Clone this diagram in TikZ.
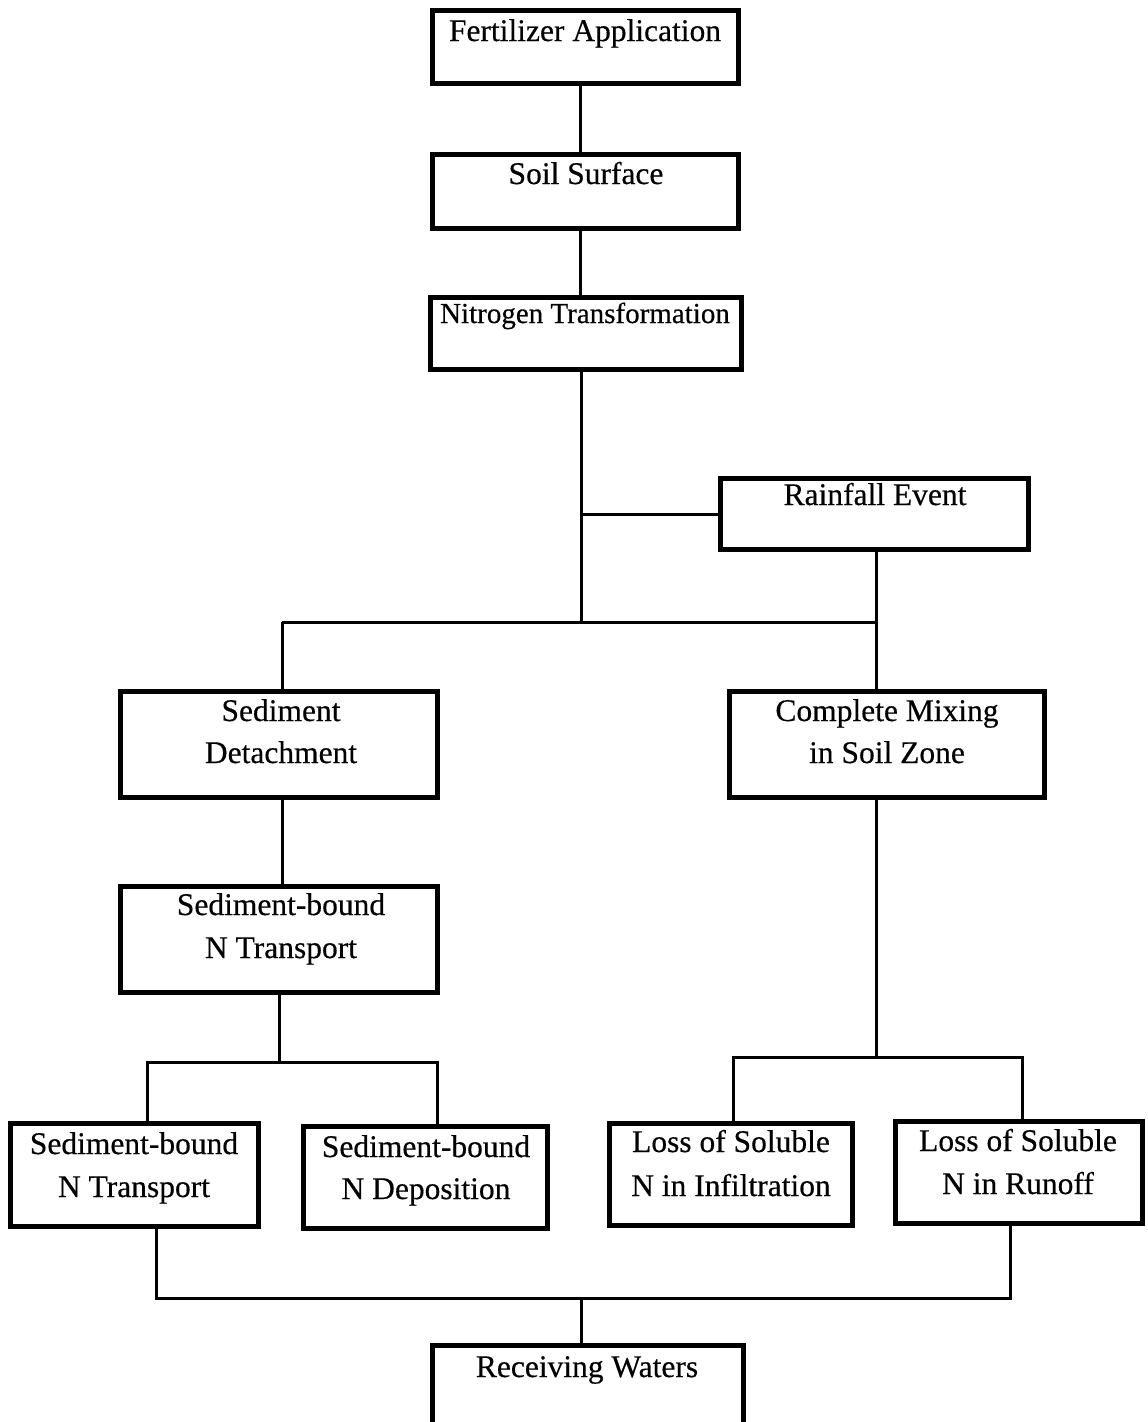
\documentclass[tikz,border=0pt]{standalone}
\usepackage{fontspec}
\setmainfont[FakeBold=0.4]{Liberation Serif}
\begin{document}
\begin{tikzpicture}[x=1pt,y=-1pt,
  box/.style={draw=black,line width=5pt,rectangle,inner sep=0pt,outer sep=0pt},
  lbl/.style={anchor=base,inner sep=0pt,font=\fontsize{31.5}{42}\selectfont},
  conn/.style={draw=black,line width=3pt}]
\useasboundingbox (0,0) rectangle (1148,1422);
% boxes
\node[box,minimum width=306pt,minimum height=73pt] (fa) at (585.5,47) {};
\node[box,minimum width=306pt,minimum height=74pt] (ss) at (585.5,191.5) {};
\node[box,minimum width=311pt,minimum height=72pt] (nt) at (586,333.5) {};
\node[box,minimum width=308pt,minimum height=71pt] (rf) at (874.5,514) {};
\node[box,minimum width=317pt,minimum height=106pt] (sd) at (279,744.5) {};
\node[box,minimum width=315pt,minimum height=106pt] (cm) at (887,744.5) {};
\node[box,minimum width=317pt,minimum height=106pt] (sb) at (279,939.5) {};
\node[box,minimum width=248pt,minimum height=103pt] (st) at (134.5,1175) {};
\node[box,minimum width=244pt,minimum height=102pt] (dp) at (425.5,1177.5) {};
\node[box,minimum width=243pt,minimum height=102pt] (li) at (731,1174.5) {};
\node[box,minimum width=247pt,minimum height=102pt] (lr) at (1019,1172.5) {};
\node[box,minimum width=311pt,minimum height=85pt] (rw) at (588,1387.5) {};
% labels
\node[lbl] (fa-t) at (585,41) {Fertilizer Application};
\node[lbl] (ss-t) at (586,184) {Soil Surface};
\node[lbl,font=\fontsize{29}{40}\selectfont] (nt-t) at (585,323) {Nitrogen Transformation};
\node[lbl] (rf-t) at (875,505) {Rainfall Event};
\node[lbl] (sd-t1) at (281,721) {Sediment};
\node[lbl] (sd-t2) at (281,763) {Detachment};
\node[lbl] (cm-t1) at (887,721) {Complete Mixing};
\node[lbl] (cm-t2) at (887,763) {in Soil Zone};
\node[lbl] (sb-t1) at (281,915) {Sediment-bound};
\node[lbl] (sb-t2) at (281,958) {N Transport};
\node[lbl] (st-t1) at (134,1154) {Sediment-bound};
\node[lbl] (st-t2) at (134,1197) {N Transport};
\node[lbl] (dp-t1) at (426,1157) {Sediment-bound};
\node[lbl] (dp-t2) at (426,1199) {N Deposition};
\node[lbl] (li-t1) at (731,1152) {Loss of Soluble};
\node[lbl] (li-t2) at (731,1196) {N in Infiltration};
\node[lbl] (lr-t1) at (1018,1151) {Loss of Soluble};
\node[lbl] (lr-t2) at (1018,1194) {N in Runoff};
\node[lbl] (rw-t) at (587,1377) {Receiving Waters};
% junction coordinates
\coordinate (v1) at (580,0);
\coordinate (vm) at (581,622);
\coordinate (vr) at (876,0);
\coordinate (vl) at (282,0);
\coordinate (ha) at (147,1062);
\coordinate (hb) at (437,1062);
\coordinate (hc) at (279,1062);
\coordinate (hd) at (733,1057);
\coordinate (he) at (1022,1057);
\coordinate (ba) at (156,1298);
\coordinate (bb) at (1010,1298);
\coordinate (bm) at (581,1298);
% connectors
\draw[conn] (fa.south -| v1) -- (ss.north -| v1);
\draw[conn] (ss.south -| v1) -- (nt.north -| v1);
\draw[conn] (nt.south -| vm) -- (vm);
\draw[conn] (rf.west) -- (rf.west -| vm);
\draw[conn] (rf.south -| vr) -- (cm.north -| vr);
\draw[conn] (vm -| vl) -- (vm -| vr);
\draw[conn] (vm -| vl) -- (sd.north -| vl);
\draw[conn] (sd.south -| vl) -- (sb.north -| vl);
\draw[conn] (sb.south -| hc) -- (hc);
\draw[conn] (st.north -| ha) -- (ha) -- (hb) -- (dp.north -| hb);
\draw[conn] (cm.south -| vr) -- (hd -| vr);
\draw[conn] (li.north -| hd) -- (hd) -- (he) -- (lr.north -| he);
\draw[conn] (st.south -| ba) -- (ba) -- (bb) -- (lr.south -| bb);
\draw[conn] (bm) -- (rw.north -| bm);
\end{tikzpicture}
\end{document}
